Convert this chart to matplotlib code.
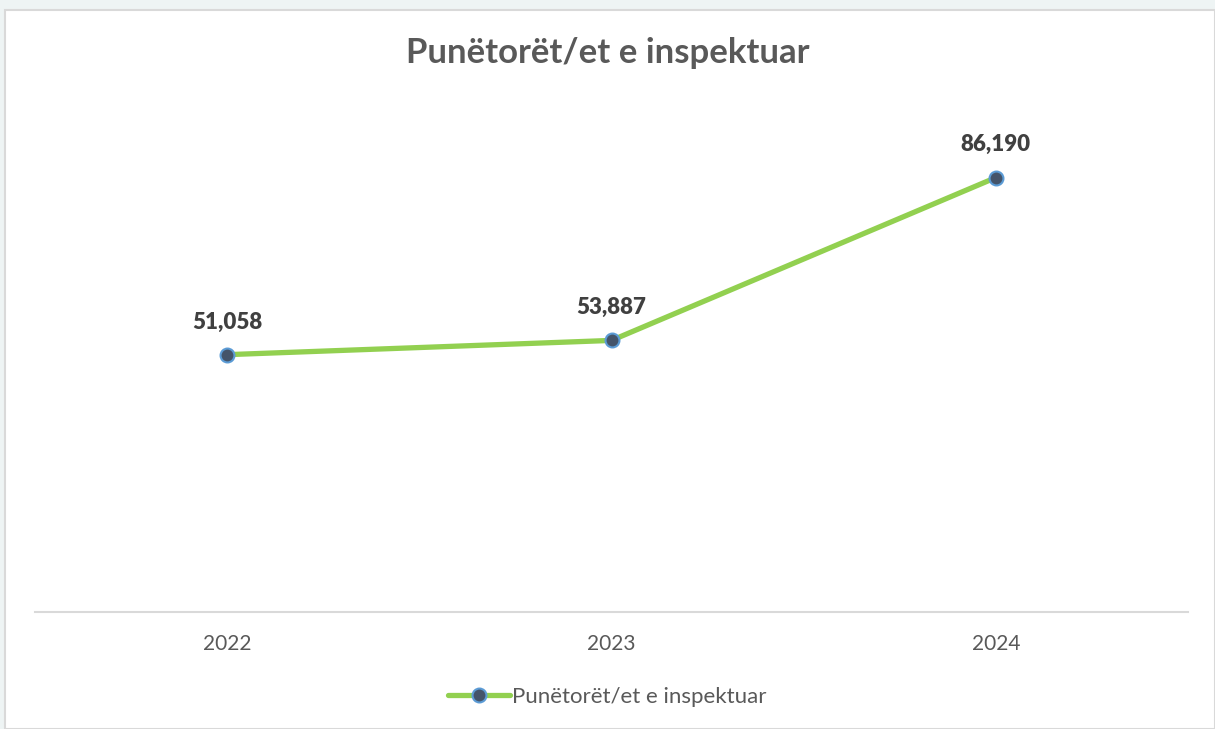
import matplotlib.pyplot as plt
from matplotlib.patches import Rectangle

# Data
vitet = ['2022', '2023', '2024']
punetoret = [51058, 53887, 86190]
seria = 'Punëtorët/et e inspektuar'

plt.rcParams['font.family'] = ['Lato', 'DejaVu Sans']

fig = plt.figure(figsize=(12.15, 7.29), dpi=100)
fig.patch.set_facecolor('#EEF4F4')
# white chart panel
fig.patches.append(Rectangle((5 / 1215, 0), 1 - 5 / 1215, 1 - 10 / 729,
                             transform=fig.transFigure, facecolor='white',
                             edgecolor='#D9D9D9', linewidth=1.5, zorder=-1))

ax = fig.add_axes([35 / 1215, (729 - 612) / 729, (1188 - 35) / 1215, (612 - 108) / 729])
ax.set_zorder(2)
ax.set_facecolor('none')

x = range(len(vitet))
ax.plot(x, punetoret, color='#92D050', linewidth=3.8, marker='o', markersize=10,
        markerfacecolor='#44546A', markeredgecolor='#5B9BD5', markeredgewidth=1.5,
        label=seria, solid_capstyle='round')

for xi, v in zip(x, punetoret):
    ax.annotate(f'{v:,}', (xi, v), xytext=(0, 16), textcoords='offset points',
                ha='center', va='bottom', fontsize=16, fontweight='heavy', color='#404040')

ax.set_xlim(-0.5, len(vitet) - 0.5)
ax.set_ylim(0, 100000)
ax.set_xticks(list(x))
ax.set_xticklabels(vitet, fontsize=15, color='#595959')
ax.tick_params(axis='x', length=0, pad=16)
ax.set_yticks([])
for s in ['top', 'left', 'right']:
    ax.spines[s].set_visible(False)
ax.spines['bottom'].set_color('#D9D9D9')
ax.spines['bottom'].set_linewidth(1.5)

fig.text(0.5, 1 - 53 / 729, 'Punëtorët/et e inspektuar', ha='center', va='center',
         fontsize=25, fontweight='bold', color='#595959')

leg = fig.legend(loc='center', bbox_to_anchor=(0.5, 1 - 697 / 729), frameon=False,
                 fontsize=16, handlelength=2.8, handletextpad=0.1)
for t in leg.get_texts():
    t.set_color('#595959')

fig.savefig('out.png', dpi=100, facecolor=fig.get_facecolor())
